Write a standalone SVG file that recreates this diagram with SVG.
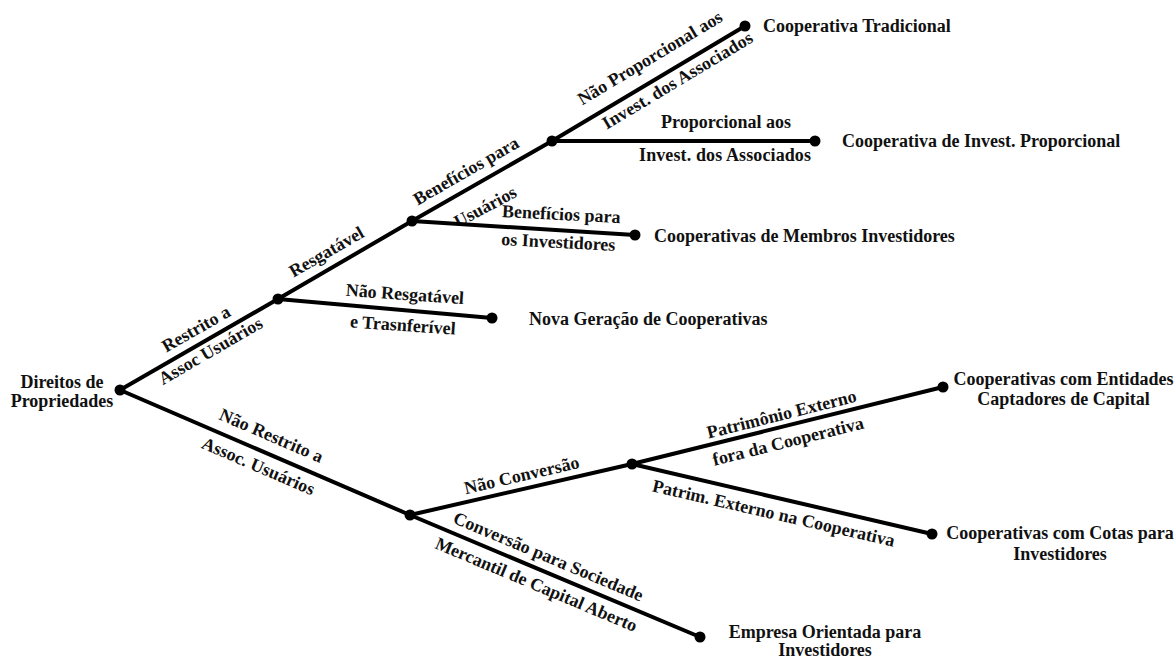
<svg xmlns="http://www.w3.org/2000/svg" width="1176" height="659" viewBox="0 0 1176 659">
  <style>
    text { font-family: "Liberation Serif", "Times New Roman", serif; font-weight: bold; font-size: 18px; fill: #111; }
    .mid { text-anchor: middle; }
    .edge { stroke: #000; stroke-width: 4; stroke-linecap: round; fill: none; }
    .dot { fill: #000; }
  </style>

  <!-- connectors with their labels -->
  <g id="connectors">
    <g id="e-root-restrito">
      <line class="edge" x1="120" y1="390" x2="278" y2="299"/>
      <text class="mid" transform="translate(199,334) rotate(-30)">Restrito a</text>
      <text class="mid" transform="translate(213.5,356) rotate(-30)">Assoc Usuários</text>
    </g>
    <g id="e-root-naorestrito">
      <line class="edge" x1="120" y1="390" x2="410" y2="515"/>
      <text class="mid" transform="translate(269,441) rotate(23.3)">Não Restrito a</text>
      <text class="mid" transform="translate(256,471.6) rotate(23.3)">Assoc. Usuários</text>
    </g>
    <g id="e-restrito-resgatavel">
      <line class="edge" x1="278" y1="299" x2="412" y2="221"/>
      <text class="mid" transform="translate(329.5,257) rotate(-30)">Resgatável</text>
    </g>
    <g id="e-restrito-novageracao">
      <line class="edge" x1="278" y1="299" x2="492" y2="318"/>
      <text class="mid" transform="translate(404.5,300) rotate(4)">Não Resgatável</text>
      <text class="mid" transform="translate(402.5,331) rotate(4)">e Trasnferível</text>
    </g>
    <g id="e-resgatavel-usuarios">
      <line class="edge" x1="412" y1="221" x2="552" y2="141"/>
      <text class="mid" transform="translate(469,176) rotate(-30)">Benefícios para</text>
      <text class="mid" transform="translate(488,212) rotate(-28)">Usuários</text>
    </g>
    <g id="e-resgatavel-investidores">
      <line class="edge" x1="412" y1="221" x2="635" y2="235"/>
      <text class="mid" transform="translate(561,220) rotate(3)">Benefícios para</text>
      <text class="mid" transform="translate(558,248) rotate(3)">os Investidores</text>
    </g>
    <g id="e-usuarios-tradicional">
      <line class="edge" x1="552" y1="141" x2="745" y2="26"/>
      <text class="mid" transform="translate(653,63) rotate(-31)">Não Proporcional aos</text>
      <text class="mid" transform="translate(680.5,85.5) rotate(-31)" textLength="172" lengthAdjust="spacing">Invest. dos Associados</text>
    </g>
    <g id="e-usuarios-proporcional">
      <line class="edge" x1="552" y1="141" x2="815" y2="141"/>
      <text class="mid" x="726" y="128">Proporcional aos</text>
      <text class="mid" x="725" y="161" textLength="172" lengthAdjust="spacing">Invest. dos Associados</text>
    </g>
    <g id="e-naorestrito-naoconversao">
      <line class="edge" x1="410" y1="515" x2="632" y2="464"/>
      <text class="mid" transform="translate(523,481) rotate(-13)">Não Conversão</text>
    </g>
    <g id="e-naorestrito-empresa">
      <line class="edge" x1="410" y1="515" x2="700" y2="637"/>
      <text class="mid" transform="translate(546,562) rotate(22.8)">Conversão para Sociedade</text>
      <text class="mid" transform="translate(534,590) rotate(22.8)">Mercantil de Capital Aberto</text>
    </g>
    <g id="e-naoconversao-entidades">
      <line class="edge" x1="632" y1="464" x2="943" y2="387"/>
      <text class="mid" transform="translate(783,420) rotate(-14)">Patrimônio Externo</text>
      <text class="mid" transform="translate(789.5,447) rotate(-14)">fora da Cooperativa</text>
    </g>
    <g id="e-naoconversao-cotas">
      <line class="edge" x1="632" y1="464" x2="932" y2="534"/>
      <text class="mid" transform="translate(772.4,519) rotate(12.9)">Patrim. Externo na Cooperativa</text>
    </g>
  </g>

  <!-- root -->
  <g id="n-direitos">
    <circle class="dot" cx="120" cy="390" r="5.5"/>
    <text class="mid" x="62" y="388">Direitos de</text>
    <text class="mid" x="62" y="407">Propriedades</text>
  </g>

  <!-- branch points -->
  <g id="n-restrito"><circle class="dot" cx="278" cy="299" r="5.5"/></g>
  <g id="n-resgatavel"><circle class="dot" cx="412" cy="221" r="5.5"/></g>
  <g id="n-usuarios"><circle class="dot" cx="552" cy="141" r="5.5"/></g>
  <g id="n-naorestrito"><circle class="dot" cx="410" cy="515" r="5.5"/></g>
  <g id="n-naoconversao"><circle class="dot" cx="632" cy="464" r="5.5"/></g>

  <!-- leaves -->
  <g id="n-tradicional">
    <circle class="dot" cx="745" cy="26" r="5.5"/>
    <text x="763" y="32">Cooperativa Tradicional</text>
  </g>
  <g id="n-proporcional">
    <circle class="dot" cx="815" cy="141" r="5.5"/>
    <text x="842" y="147">Cooperativa de Invest. Proporcional</text>
  </g>
  <g id="n-membros">
    <circle class="dot" cx="635" cy="235" r="5.5"/>
    <text x="654" y="242">Cooperativas de Membros Investidores</text>
  </g>
  <g id="n-novageracao">
    <circle class="dot" cx="492" cy="318" r="5.5"/>
    <text x="529" y="325">Nova Geração de Cooperativas</text>
  </g>
  <g id="n-entidades">
    <circle class="dot" cx="943" cy="387" r="5.5"/>
    <text class="mid" x="1063.5" y="385">Cooperativas com Entidades</text>
    <text class="mid" x="1063.5" y="405">Captadores de Capital</text>
  </g>
  <g id="n-cotas">
    <circle class="dot" cx="932" cy="534" r="5.5"/>
    <text class="mid" x="1060" y="539">Cooperativas com Cotas para</text>
    <text class="mid" x="1060" y="560">Investidores</text>
  </g>
  <g id="n-empresa">
    <circle class="dot" cx="700" cy="637" r="5.5"/>
    <text class="mid" x="825" y="638">Empresa Orientada para</text>
    <text class="mid" x="825" y="656">Investidores</text>
  </g>
</svg>
